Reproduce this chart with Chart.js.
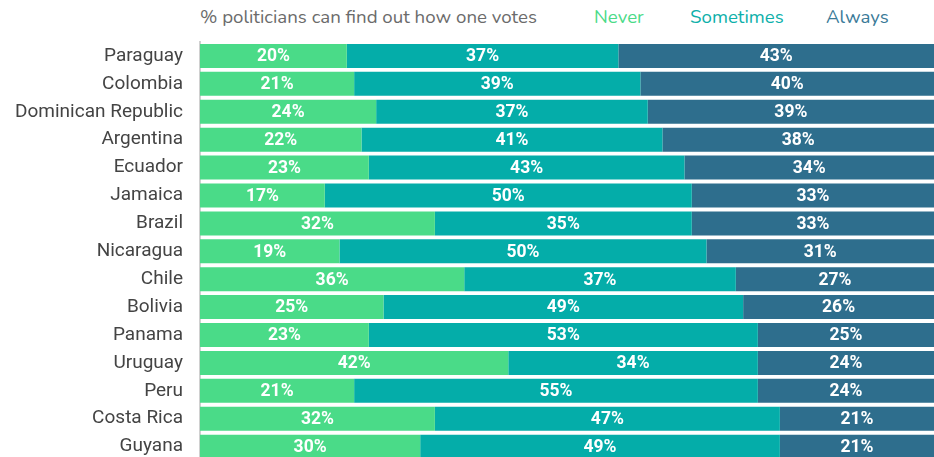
<!DOCTYPE html>
<html>
<head>
<meta charset="utf-8">
<script src="https://cdn.jsdelivr.net/npm/chart.js@4"></script>
<style>
  html, body { margin: 0; padding: 0; background: #fff; overflow: hidden; }
  #wrap { position: relative; width: 934px; height: 457px; overflow: hidden; }
  #c { position: absolute; left: 0; top: 0; }
  .hdr { position: absolute; top: 6px; font-family: 'Nunito', Lato, 'Open Sans', sans-serif; font-size: 18.7px; line-height: 22px; white-space: nowrap; }
</style>
</head>
<body>
<div id="wrap">
  <div class="hdr" style="left:200px;color:#6b6b6b">% politicians can find out how one votes</div>
  <div class="hdr" style="left:594px;color:#4ADB88">Never</div>
  <div class="hdr" style="left:690px;color:#0DB0AA">Sometimes</div>
  <div class="hdr" style="left:826px;color:#3A7A98">Always</div>
  <!-- el lienzo es más alto que la ventana: la última barra queda cortada como en el original -->
  <canvas id="c" width="934" height="481"></canvas>
</div>
<script>
// datos
const countries = ['Paraguay', 'Colombia', 'Dominican Republic', 'Argentina', 'Ecuador', 'Jamaica', 'Brazil',
  'Nicaragua', 'Chile', 'Bolivia', 'Panama', 'Uruguay', 'Peru', 'Costa Rica', 'Guyana'];
const never     = [20, 21, 24, 22, 23, 17, 32, 19, 36, 25, 23, 42, 21, 32, 30];
const sometimes = [37, 39, 37, 41, 43, 50, 35, 50, 37, 49, 53, 34, 55, 47, 49];
const always    = [43, 40, 39, 38, 34, 33, 33, 31, 27, 26, 25, 24, 24, 21, 21];

const COLORS = ['#4ADB88', '#04ADA9', '#2E6E8D'];

// etiquetas de porcentaje centradas en cada segmento
const valueLabels = {
  id: 'valueLabels',
  afterDatasetsDraw(chart) {
    const ctx = chart.ctx;
    ctx.save();
    ctx.font = "bold 17.5px Roboto, sans-serif";
    ctx.fillStyle = '#ffffff';
    ctx.textAlign = 'center';
    ctx.textBaseline = 'middle';
    chart.data.datasets.forEach((ds, i) => {
      chart.getDatasetMeta(i).data.forEach((bar, j) => {
        const left = Math.max(bar.base, chart.chartArea.left);
        const right = Math.min(bar.x, chart.chartArea.right);
        ctx.fillText(ds.data[j] + '%', (left + right) / 2, bar.y + 1);
      });
    });
    ctx.restore();
  }
};

new Chart(document.getElementById('c'), {
  type: 'bar',
  data: {
    labels: countries,
    datasets: [
      { label: 'Never', data: never, backgroundColor: COLORS[0] },
      { label: 'Sometimes', data: sometimes, backgroundColor: COLORS[1] },
      { label: 'Always', data: always, backgroundColor: COLORS[2] },
    ],
  },
  options: {
    indexAxis: 'y',
    responsive: false,
    animation: false,
    layout: { padding: { top: 42, left: 0, right: 0, bottom: 0 } },
    datasets: { bar: { categoryPercentage: 1, barPercentage: 0.86, borderWidth: 0 } },
    plugins: { legend: { display: false }, tooltip: { enabled: false } },
    scales: {
      x: { stacked: true, min: 0, max: 100, display: false },
      y: {
        stacked: true,
        grid: { display: false },
        border: { display: true, color: '#d0d0d0', width: 2 },
        ticks: { color: '#444', padding: 9, font: { family: 'Roboto, sans-serif', size: 19 } },
        afterFit(scale) { scale.width = 200; },
      },
    },
  },
  plugins: [valueLabels],
});
</script>
</body>
</html>
